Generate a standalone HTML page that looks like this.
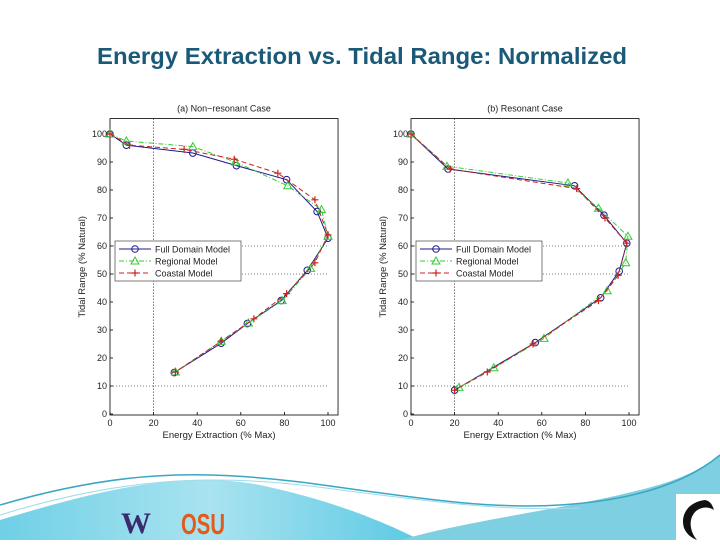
<!DOCTYPE html>
<html><head><meta charset="utf-8"><style>
html,body{margin:0;padding:0;background:#fff;}
body{width:720px;height:540px;overflow:hidden;font-family:"Liberation Sans",sans-serif;}
</style></head><body>
<svg id="root" width="720" height="540" viewBox="0 0 720 540" xmlns="http://www.w3.org/2000/svg">
<text x="362" y="64" text-anchor="middle" font-size="23" font-weight="bold" fill="#1a5a78" textLength="530" lengthAdjust="spacingAndGlyphs">Energy Extraction vs. Tidal Range: Normalized</text>
<g>
<defs><linearGradient id="wg" x1="0" x2="1" y1="0" y2="0"><stop offset="0" stop-color="#6fd0e6"/><stop offset="0.5" stop-color="#a9e3f0"/><stop offset="1" stop-color="#5cc9e4"/></linearGradient></defs>
<path d="M0,520 C100,490 180,470 260,485 C330,500 380,520 420,540 L0,540 Z" fill="url(#wg)"/>
<path d="M400,540 C470,520 560,510 640,490 C680,480 700,470 720,455 L720,540 Z" fill="#7fcfe2"/>
<path d="M0,505 C120,470 200,470 300,482 C400,495 480,510 560,505 C640,500 690,480 720,455" fill="none" stroke="#3aa7c2" stroke-width="1.5"/>
<path d="M0,515 C120,478 210,474 310,486 C420,500 500,512 580,508" fill="none" stroke="#9fdcec" stroke-width="1"/>
<text x="121" y="533" font-size="30" font-weight="bold" font-family="Liberation Serif,serif" fill="#3b2a6e">W</text>
<text x="181" y="534" font-size="29" font-weight="bold" fill="#e25a1c" textLength="44" lengthAdjust="spacingAndGlyphs">OSU</text>
<rect x="676" y="494" width="44" height="46" fill="#fff"/>
<path d="M705,500 C688,502 680,515 684,528 C687,535 692,538 697,540 C690,532 688,520 695,512 C700,507 708,506 714,510 C712,504 710,501 705,500 Z" fill="#111"/>
</g>
<g id="chartA"></g>
<g id="chartB"></g>
</svg>
<script>
// Chart (a) Non-resonant
const fullAx=[0,7.5,38,58,81,95,100,90.5,78.5,63,51,29.5];
const fullAy=[100,96,93.2,88.7,83.7,72.3,62.8,51.3,40.5,32.3,25.3,14.8];
const regAx=[0,7.5,38,57.5,81.5,97,100,92,79,63.5,51,30];
const regAy=[100,97.5,95.5,90,81.5,73,63.5,52,40.5,32.5,26,15];
const coaAx=[0,9,34,57,77,94,100,94,81,66,51,30];
const coaAy=[100,96,94.5,91,86,76.5,64,54,43,34,26,15];
// Chart (b) Resonant
const fullBx=[0,17,75,88.5,99,95.5,87,57,20];
const fullBy=[100,87.5,81.5,71,61,51,41.5,25.5,8.5];
const regBx=[0,16.5,72,86,99.5,98.5,90,61,38,22];
const regBy=[100,88.5,82.5,73.5,63.5,54,44,27,16.5,9.5];
const coaBx=[0,18,76,89,99,95,86,56,35,20];
const coaBy=[100,87.5,80.5,70,61,49.5,40.5,25,15,8.5];
const xTicks=[0,20,40,60,80,100];
const yTicks=[0,10,20,30,40,50,60,70,80,90,100];
const legendLabels=["Full Domain Model","Regional Model","Coastal Model"];
const NS="http://www.w3.org/2000/svg";
function mk(p,tag,at){const e=document.createElementNS(NS,tag);for(const k in at)e.setAttribute(k,at[k]);p.appendChild(e);return e;}
function draw(gid,x0,title,series){
  const g=document.getElementById(gid);
  const W=218/100,H=280/100,y0=414;
  const sx=v=>x0+v*W, sy=v=>y0-v*H;
  const L=x0,R=sx(104.6),T=sy(105.5),B=sy(0)+1;
  let t;
  mk(g,'rect',{x:L,y:T,width:R-L,height:B-T,fill:'#fff',stroke:'#000','stroke-width':0.8});
  let d=mk(g,'line',{x1:sx(20),x2:sx(20),y1:T,y2:B,stroke:'#000','stroke-width':0.8,'stroke-dasharray':'1,2'});
  
  [10,50,60].forEach(v=>{const l=mk(g,'line',{x1:L,x2:sx(100),y1:sy(v),y2:sy(v),stroke:'#555','stroke-width':0.7,'stroke-dasharray':'1,2'});
    });
  xTicks.forEach(v=>{mk(g,'line',{x1:sx(v),x2:sx(v),y1:B,y2:B-3,stroke:'#000','stroke-width':0.8});
    t=mk(g,'text',{x:sx(v),y:B+11,'font-size':9,'text-anchor':'middle',fill:'#222'});t.textContent=v;
    });
  yTicks.forEach(v=>{mk(g,'line',{x1:L,x2:L+3,y1:sy(v),y2:sy(v),stroke:'#000','stroke-width':0.8});
    t=mk(g,'text',{x:L-3,y:sy(v)+3,'font-size':9,'text-anchor':'end',fill:'#222'});t.textContent=v;
    });
  t=mk(g,'text',{x:(L+R)/2,y:T-7,'font-size':9,'text-anchor':'middle',fill:'#222'});t.textContent=title;
  
  t=mk(g,'text',{x:(L+R)/2-5,y:B+23,'font-size':9.5,'text-anchor':'middle',fill:'#222'});t.textContent='Energy Extraction (% Max)';
  
  t=mk(g,'text',{x:0,y:0,'font-size':9.5,'text-anchor':'middle',fill:'#222',transform:`translate(${L-25},${(T+B)/2}) rotate(-90)`});t.textContent='Tidal Range (% Natural)';
  
  function marker(p,type,x,y,c){
    if(type==='o')return mk(p,'circle',{cx:x,cy:y,r:3.3,fill:'none',stroke:c,'stroke-width':1});
    if(type==='^')return mk(p,'path',{d:`M${x},${y-4}L${x+4},${y+3}L${x-4},${y+3}Z`,fill:'none',stroke:c,'stroke-width':1});
    return mk(p,'path',{d:`M${x-3.5},${y}H${x+3.5}M${x},${y-3.5}V${y+3.5}`,stroke:c,'stroke-width':1.2});
  }
  series.forEach(s=>{
    const sg=mk(g,'g',{});
    
    const pts=s.x.map((v,i)=>sx(v)+','+sy(s.y[i])).join(' ');
    mk(sg,'polyline',{points:pts,fill:'none',stroke:s.c,'stroke-width':1,'stroke-dasharray':s.dash});
    s.x.forEach((v,i)=>{const m=marker(sg,s.m,sx(v),sy(s.y[i]),s.c);
      });
  });
  const lg=mk(g,'g',{});
  
  const lx=L+5,ly=sy(60)-5;
  mk(lg,'rect',{x:lx,y:ly,width:126,height:40,fill:'#fff',stroke:'#444','stroke-width':0.7});
  series.forEach((s,i)=>{const yy=ly+8+i*12;
    const e=mk(lg,'g',{});
    
    mk(e,'line',{x1:lx+4,x2:lx+36,y1:yy,y2:yy,stroke:s.c,'stroke-width':1,'stroke-dasharray':s.dash});
    marker(e,s.m,lx+20,yy,s.c);
    const tt=mk(e,'text',{x:lx+40,y:yy+3.5,'font-size':9,fill:'#222'});tt.textContent=legendLabels[i];});
}
draw('chartA',110,'(a) Non\u2212resonant Case',[
 {name:'series-full-domain',x:fullAx,y:fullAy,c:'#1a1a8c',m:'o',dash:''},
 {name:'series-regional',x:regAx,y:regAy,c:'#33cc33',m:'^',dash:'5,2,1,2'},
 {name:'series-coastal',x:coaAx,y:coaAy,c:'#cc2222',m:'+',dash:'5,3'}]);
draw('chartB',411,'(b) Resonant Case',[
 {name:'series-full-domain',x:fullBx,y:fullBy,c:'#1a1a8c',m:'o',dash:''},
 {name:'series-regional',x:regBx,y:regBy,c:'#33cc33',m:'^',dash:'5,2,1,2'},
 {name:'series-coastal',x:coaBx,y:coaBy,c:'#cc2222',m:'+',dash:'5,3'}]);
</script>
</body></html>
